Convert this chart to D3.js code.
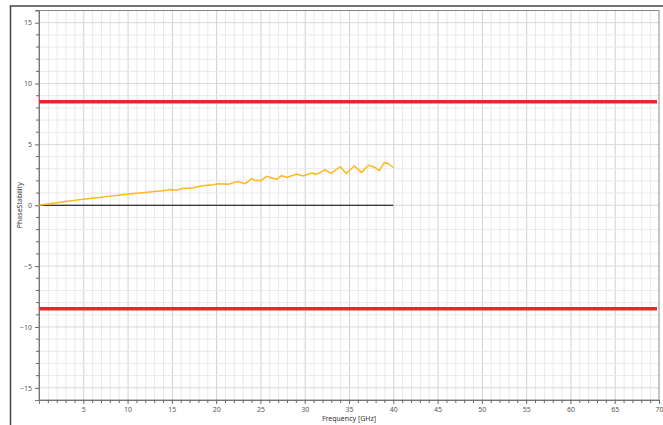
<!DOCTYPE html>
<html>
<head>
<meta charset="utf-8">
<script src="https://cdn.jsdelivr.net/npm/d3@7"></script>
<style>
  body { margin: 0; background: #fff; }
  svg { display: block; font-family: "Noto Sans", "DejaVu Sans", sans-serif; }
  .tick text { fill: #555; font-size: 7px; font-family: "Noto Sans", sans-serif; }
  .axis-label { fill: #333; font-size: 7px; }
</style>
</head>
<body>
<div id="chart"></div>
<script>
// data
const freqs = [0, 1, 2, 3, 4, 5, 6, 7, 8, 9, 10, 11, 12, 13, 14, 14.8, 15.5, 16.3, 17, 17.4,
  18.5, 19.7, 20.2, 21.4, 22.4, 23.3, 24.0, 24.4, 25.1, 25.7, 26.8, 27.4, 28, 29.1, 29.8,
  30.8, 31.3, 32.3, 33, 34, 34.7, 35.6, 36.4, 37.2, 37.9, 38.4, 39, 39.4, 40];
const stability = [0, 0.1, 0.2, 0.3, 0.4, 0.5, 0.58, 0.66, 0.75, 0.83, 0.9, 0.98, 1.05, 1.12, 1.2, 1.3, 1.23, 1.39, 1.4, 1.44,
  1.6, 1.69, 1.77, 1.72, 1.94, 1.77, 2.18, 2.04, 2.04, 2.37, 2.13, 2.43, 2.29, 2.57, 2.4,
  2.65, 2.54, 2.9, 2.62, 3.17, 2.62, 3.22, 2.7, 3.28, 3.12, 2.84, 3.5, 3.43, 3.1];
const limits = [8.5, -8.5];
const zeroLine = [0, 40];
const xTicks = [5, 10, 15, 20, 25, 30, 35, 40, 45, 50, 55, 60, 65, 70];
const yTicks = [-15, -10, -5, 0, 5, 10, 15];

const width = 663, height = 425;
const margin = { top: 10.5, right: 4, bottom: 25, left: 39 };
const innerWidth = width - margin.left - margin.right;
const innerHeight = height - margin.top - margin.bottom;

const svg = d3.select("#chart").append("svg")
    .attr("width", width)
    .attr("height", height);

// outer frame (top + left edge)
svg.append("path")
    .attr("d", `M10.5,${height} V6 H${width}`)
    .attr("fill", "none")
    .attr("stroke", "#444")
    .attr("stroke-width", 1.5);

const innerChart = svg.append("g")
    .attr("transform", `translate(${margin.left},${margin.top})`);

const xScale = d3.scaleLinear().domain([0, 70]).range([0, innerWidth]);
const yScale = d3.scaleLinear().domain([-16, 16]).range([innerHeight, 0]);

// grid
const xMinor = d3.range(1, 70);
const yMinor = d3.range(-15, 17);
innerChart.append("g").selectAll("line")
    .data(xMinor)
    .join("line")
      .attr("x1", d => xScale(d) + 0.5).attr("x2", d => xScale(d) + 0.5)
      .attr("y1", 0).attr("y2", innerHeight)
      .attr("stroke", d => d % 5 === 0 ? "#d0d0d0" : "#e8e8e8");
innerChart.append("g").selectAll("line")
    .data(yMinor)
    .join("line")
      .attr("y1", d => yScale(d)).attr("y2", d => yScale(d))
      .attr("x1", 0).attr("x2", innerWidth)
      .attr("stroke", d => d % 5 === 0 ? "#d8d8d8" : "#e8e8e8");

// plot border
innerChart.append("rect")
    .attr("width", innerWidth).attr("height", innerHeight)
    .attr("fill", "none").attr("stroke", "#888");

// axes
const bottomAxis = d3.axisBottom(xScale).tickValues(xTicks).tickSize(4).tickPadding(3);
const xAxisG = innerChart.append("g")
    .attr("transform", `translate(0,${innerHeight})`)
    .call(bottomAxis);
xAxisG.append("g").selectAll("line")
    .data(xMinor.filter(d => d % 5 !== 0))
    .join("line")
      .attr("x1", d => xScale(d) + 0.5).attr("x2", d => xScale(d) + 0.5)
      .attr("y1", 0).attr("y2", 3)
      .attr("stroke", "#666");

const leftAxis = d3.axisLeft(yScale).tickValues(yTicks).tickSize(4).tickPadding(3);
const yAxisG = innerChart.append("g").call(leftAxis);
yAxisG.append("g").selectAll("line")
    .data(yMinor.filter(d => d % 5 !== 0))
    .join("line")
      .attr("y1", d => yScale(d)).attr("y2", d => yScale(d))
      .attr("x1", 0).attr("x2", -3)
      .attr("stroke", "#666");

innerChart.selectAll(".domain").attr("stroke", "#777");
innerChart.selectAll(".tick line").attr("stroke", "#666");

// limit lines
innerChart.selectAll(".limit")
    .data(limits)
    .join("line")
      .attr("class", "limit")
      .attr("x1", 0).attr("x2", innerWidth - 2)
      .attr("y1", d => yScale(d)).attr("y2", d => yScale(d))
      .attr("stroke", "#e8262b")
      .attr("stroke-width", 3.5);

// zero reference
innerChart.append("line")
    .attr("x1", xScale(zeroLine[0])).attr("x2", xScale(zeroLine[1]))
    .attr("y1", yScale(0)).attr("y2", yScale(0))
    .attr("stroke", "#000").attr("stroke-width", 1.2);

// measured series
const line = d3.line()
    .x((d, i) => xScale(freqs[i]))
    .y(d => yScale(d));
innerChart.append("path")
    .datum(stability)
    .attr("d", line)
    .attr("fill", "none")
    .attr("stroke", "#ffb81c")
    .attr("stroke-width", 1.5);

// axis labels
svg.append("text")
    .text("Frequency [GHz]")
    .attr("class", "axis-label")
    .attr("text-anchor", "middle")
    .attr("x", margin.left + innerWidth / 2)
    .attr("y", height - 4);

svg.append("text")
    .text("PhaseStability")
    .attr("class", "axis-label")
    .attr("text-anchor", "middle")
    .attr("transform", `translate(22,${margin.top + yScale(0)}) rotate(-90)`);
</script>
</body>
</html>
